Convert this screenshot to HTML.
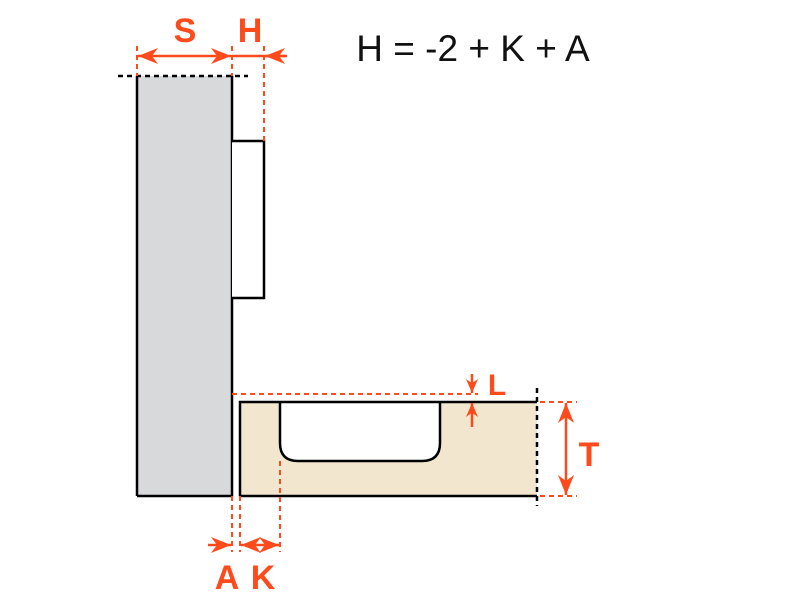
<!DOCTYPE html><html><head><style>body{margin:0;background:#fff}</style></head><body>
<svg width="800" height="600" xmlns="http://www.w3.org/2000/svg">
<defs>
<marker id="ar" viewBox="0 0 10 10" refX="10" refY="5" markerWidth="20" markerHeight="16" orient="auto-start-reverse" markerUnits="userSpaceOnUse" preserveAspectRatio="none"><path d="M0,0L10,5L0,10L3,5z" fill="#ff4a1c"/></marker>
<marker id="as" viewBox="0 0 10 10" refX="10" refY="5" markerWidth="14" markerHeight="12" orient="auto-start-reverse" markerUnits="userSpaceOnUse" preserveAspectRatio="none"><path d="M0,0L10,5L0,10L3,5z" fill="#ff4a1c"/></marker>
</defs>
<rect x="137" y="76" width="95" height="420" fill="#d8d9da"/>
<path d="M137,496V76M232,76V496M137,496H232" stroke="#000" stroke-width="2.5" fill="none"/>
<path d="M232,141H264V298H232" stroke="#000" stroke-width="2.5" fill="#fff"/>
<rect x="240" y="402" width="297" height="94" fill="#f2e6cf"/>
<path d="M280,402V443Q280,461 298,461H422Q440,461 440,443V402Z" fill="#fff"/>
<path d="M240,496V402H537M240,496H537M280,402V443Q280,461 298,461H422Q440,461 440,443V402" stroke="#000" stroke-width="2.5" fill="none"/>
<g stroke="#000" stroke-width="2.5" stroke-dasharray="5,4" fill="none">
<path d="M118,76H248"/><path d="M537,388V506"/></g>
<g stroke="#ff4a1c" stroke-width="2" stroke-dasharray="5,4" fill="none">
<path d="M232,394H478"/><path d="M540,402H577M540,496H577"/>
<path d="M137,46V76M232,46V76M264,46V141"/>
<path d="M232,496V552M240,496V552M280,461V552"/>
</g>
<g stroke="#ff4a1c" stroke-width="2.5" fill="none">
<path d="M138,56H231" marker-start="url(#ar)" marker-end="url(#ar)"/>
<path d="M232,56H285"/><path d="M287,56H265" marker-end="url(#ar)"/>
<path d="M566,403V495" marker-start="url(#ar)" marker-end="url(#ar)"/>
<path d="M472,374V393" marker-end="url(#as)"/><path d="M472,427V403" marker-end="url(#as)"/>
<path d="M208,545H231" marker-end="url(#ar)"/>
<path d="M241,545H279" marker-start="url(#ar)" marker-end="url(#ar)"/>
</g>
<g fill="#ff4a1c" font-family="Liberation Sans, sans-serif" font-weight="bold" font-size="34" text-anchor="middle">
<text x="185" y="42">S</text><text x="250" y="42">H</text>
<text x="497" y="395" font-size="30">L</text><text x="589" y="466">T</text>
<text x="227" y="589">A</text><text x="263" y="589">K</text>
</g>
<text x="473" y="61" font-family="Liberation Sans, sans-serif" font-size="37" text-anchor="middle" fill="#111">H = -2 + K + A</text>
</svg></body></html>
